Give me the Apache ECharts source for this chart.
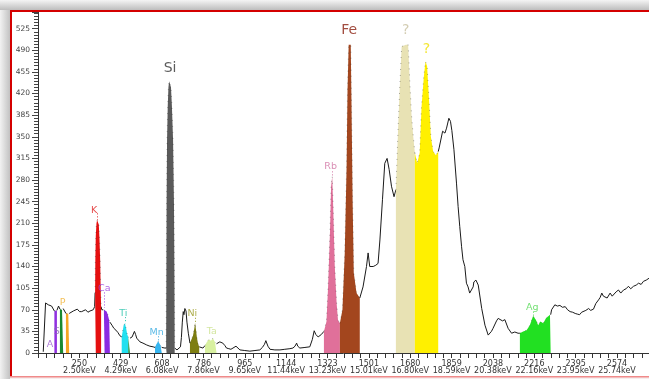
<!DOCTYPE html>
<html><head><meta charset="utf-8">
<script src="https://cdn.jsdelivr.net/npm/echarts@6/dist/echarts.min.js"></script>
<style>html,body{margin:0;padding:0;background:#fff}#c{width:649px;height:379px}</style>
</head><body><div id="c"></div>
<script>
// spectrum: [channel, counts]
const spectrum = [
[94,2],[104,81],[116,78],[123,80],[130,76],[136,73],
[142,68],[146,70],[150,68],[153,69],
[160,76],
[166,71],[170,72],[175,70],[180,72],
[186,74],
[192,64],[197,66],[202,64],[206,64],
[214,66],[224,68],[231,66],[241,71],[251,67],[260,67],[268,70],[277,70],[287,66],[296,68],[303,66],[310,70],[316,75],
[318,97],[319,150],[321,190],[324,210],[327,215],[331,215],[334,208],[337,185],[340,150],[342,110],[344,75],
[347,70],[353,70],
[356,70],[359,73],[363,72],[368,67],[373,62],[379,53],[382,50],
[391,45],[399,40],[408,37],[417,33],[425,28],
[433,26],[437,35],[441,44],[447,48],[452,40],[457,30],[461,26],
[465,27],[469,24],
[478,26],[488,35],[493,30],[498,24],[503,21],[512,18],[525,16],[541,13],[555,11],[569,10],
[577,9],[583,14],[591,19],[596,16],[601,12],[606,9],
[611,8],[620,8],
[625,8],[626,120],[627,240],[629,345],[632,400],[635,430],[638,440],[643,440],[646,430],[650,400],[655,345],[659,240],[661,120],[662,8],
[664,6],[672,5],[680,5],[687,10],[691,25],[695,50],[699,67],[702,62],[706,72],[711,68],[715,50],[721,32],
[728,16],[734,18],[741,28],[747,40],[750,49],[754,38],[758,25],[763,15],[768,10],
[775,8],[784,8],
[793,12],[801,18],[810,22],[819,20],[827,24],[836,18],[843,15],
[849,16],[857,18],[865,21],[870,16],[879,12],[886,8],[896,7],[905,6],[914,8],[927,11],[935,8],[944,5],[965,4],[987,3],[1009,4],[1030,5],[1041,9],[1050,14],[1056,20],[1065,11],[1074,6],[1095,5],[1117,5],[1138,6],[1160,7],[1173,8],[1182,11],[1189,16],[1194,11],[1203,8],[1225,9],[1246,10],[1257,22],[1265,36],[1272,30],[1282,26],[1289,27],[1296,30],[1304,33],
[1307,35],[1318,51],[1325,107],[1333,194],[1338,270],[1343,286],[1347,237],[1354,140],[1362,80],[1368,53],[1376,48],
[1387,70],[1397,162],[1405,302],[1409,426],[1414,499],[1423,499],[1426,410],[1431,248],[1436,130],[1448,97],[1462,89],
[1476,107],[1491,140],[1498,162],[1505,140],[1520,140],[1531,142],[1541,145],[1549,183],[1560,248],[1570,307],[1580,315],[1589,297],[1599,270],[1610,253],
[1618,264],[1628,367],[1635,432],[1643,496],[1650,499],[1661,499],[1671,499],[1679,432],[1686,383],[1693,351],[1700,324],
[1710,307],[1721,324],[1729,399],[1739,448],[1746,472],[1753,464],[1762,405],[1769,351],[1779,326],[1791,320],[1801,326],
[1805,332],[1820,359],[1830,356],[1837,364],[1847,380],[1854,375],[1860,360],[1869,329],[1880,275],[1887,237],[1894,205],[1902,172],[1908,151],[1916,140],[1923,113],[1930,107],[1937,97],[1942,97],[1952,107],[1955,115],[1964,118],[1974,110],[1989,72],[2003,45],[2017,29],[2024,26],[2031,35],[2038,40],[2053,52],[2060,56],[2067,59],[2079,52],[2089,54],[2103,40],[2118,32],[2132,34],[2146,32],
[2154,32],[2168,35],[2183,37],[2197,45],[2211,60],[2223,54],[2233,45],[2243,51],[2255,48],[2266,56],[2284,62],[2287,62],
[2291,70],[2305,78],[2316,76],[2327,77],[2338,74],[2350,75],[2360,70],[2371,67],[2382,66],[2393,64],[2402,63],[2412,62],[2421,66],[2429,65],[2439,69],[2451,72],[2460,69],[2472,71],[2482,80],[2494,86],[2501,90],[2508,97],[2515,92],[2523,94],[2531,89],[2544,97],[2553,92],[2559,95],[2570,99],[2580,102],[2590,97],[2602,102],[2613,104],[2623,108],[2633,104],[2645,108],[2657,110],[2667,113],[2678,111],[2688,116],[2700,118],[2712,121]
];

// highlighted element regions (channel ranges)
const regionStart = [142, 166, 192, 318, 356, 433, 461, 577, 625, 728, 793, 1307, 1376, 1618, 1700, 2154];
const regionEnd   = [153, 180, 206, 344, 382, 461, 469, 606, 662, 768, 843, 1376, 1462, 1700, 1801, 2287];
const regionColor = ['#9030e0','#1a8a30','#f5a623','#e51010','#8a2be2','#22e0f0','#2a9a50','#35b5f0','#5a5a5a','#7d7d12','#d8f0a0','#e0709a','#a3461e','#e8e2b4','#fff000','#22e022'];

// element labels
const labelText    = ['A','S','P','K','Ca','Ti','Mn','Si','Ni','Ta','Rb','Fe','?','?','Ag'];
const labelChannel = [123, 152, 178, 314, 358, 440, 584, 642, 738, 822, 1336, 1416, 1661, 1750, 2208];
const labelCount   = [13, 34, 82, 230, 105, 64, 33, 461, 64, 35, 302, 522, 522, 491, 74];
const labelColor   = ['#9b59d0','#8a6ab0','#f0b030','#e02020','#9b40e0','#20c0a8','#30a8e0','#333333','#9a9a20','#c8e088','#d070a0','#8b2010','#c8c0a0','#f0e000','#50d850'];
const labelSize    = [9.5, 9.5, 9.5, 9.5, 9.5, 9.5, 9.5, 14, 9.5, 9.5, 9.5, 14, 14, 14, 9.5];

// dotted drop lines from labels to peaks
const dropChannel = [329, 359, 447, 591, 750, 1343, 2211];
const dropFrom    = [226, 98, 58, 27, 57, 294, 67];
const dropTo      = [215, 73, 48, 19, 49, 286, 60];
const dropColor   = ['#e02020','#9b40e0','#20c0a8','#30a8e0','#9a9a20','#d070a0','#50d850'];

// axis ticks
const xTickValues   = [250, 428.75, 607.5, 786.25, 965, 1143.75, 1322.5, 1501.25, 1680, 1858.75, 2037.5, 2216.25, 2395, 2573.75];
const xTickChannels = ['250','429','608','786','965','1144','1323','1501','1680','1859','2038','2216','2395','2574'];
const xTickKeV      = ['2.50keV','4.29keV','6.08keV','7.86keV','9.65keV','11.44keV','13.23keV','15.01keV','16.80keV','18.59keV','20.38keV','22.16keV','23.95keV','25.74keV'];
const xMin = 71.25, xMax = 2712, xMinorStep = 35.75;
const yMin = 0, yMax = 552, yInterval = 35;

const xMinorTicks = [];
for (let v = xMin; v <= xMax; v += xMinorStep) xMinorTicks.push(v);

function inRegionStrict(c){
  for (let i=0;i<regionStart.length;i++) if (c>regionStart[i] && c<regionEnd[i]) return true;
  return false;
}
const blackData = spectrum.map(p => inRegionStrict(p[0]) ? [p[0],'-'] : p);

const series = [{
  type:'line', data: blackData, symbol:'none', connectNulls:false, z:3,
  lineStyle:{color:'#1a1a1a', width:1}, silent:true
}];
regionStart.forEach((s,i)=>{
  series.push({
    type:'line', symbol:'none', z:4, silent:true,
    data: spectrum.filter(p=>p[0]>=s && p[0]<=regionEnd[i]),
    areaStyle:{color:regionColor[i], opacity:1},
    lineStyle:{color:'rgba(20,20,20,0.35)', width:1, type:[1,5]}
  });
});
series.push({
  type:'scatter', symbolSize:0, z:6, silent:true,
  data: labelText.map((t,i)=>({
    value:[labelChannel[i], labelCount[i]],
    label:{show:true, position:'inside', formatter:t, color:labelColor[i], fontSize:labelSize[i], fontFamily:'DejaVu Sans'}
  })),
  markLine:{
    silent:true, symbol:'none', label:{show:false},
    data: dropChannel.map((c,i)=>[
      {coord:[c, dropFrom[i]], lineStyle:{color:dropColor[i], type:[1,2], width:1}},
      {coord:[c, dropTo[i]]}
    ])
  }
});

const chart = echarts.init(document.getElementById('c'), null, {renderer:'canvas'});
chart.setOption({
  animation:false,
  backgroundColor:'#ffffff',
  graphic:[
    {type:'rect', z:-100, shape:{x:0,y:0,width:649,height:10}, style:{fill:new echarts.graphic.LinearGradient(0,0,0,1,[{offset:0,color:'#f4f4f4'},{offset:1,color:'#bdbdbd'}])}},
    {type:'rect', z:-100, shape:{x:0,y:10,width:10,height:369}, style:{fill:new echarts.graphic.LinearGradient(0,0,1,0,[{offset:0,color:'#f2f2f2'},{offset:1,color:'#c2c2c2'}])}},
    {type:'rect', z:-100, shape:{x:10,y:377,width:639,height:2}, style:{fill:'#f6eeee'}},
    {type:'rect', z:100, shape:{x:10,y:10,width:639,height:2}, style:{fill:'#d40000'}},
    {type:'rect', z:100, shape:{x:10,y:10,width:2,height:367}, style:{fill:'#d40000'}},
    {type:'rect', z:100, shape:{x:10,y:376,width:639,height:1.5}, style:{fill:'#f08a8a'}}
  ],
  grid:{left:38, right:0, top:12, bottom:26, containLabel:false},
  xAxis:{
    type:'value', min:xMin, max:xMax,
    axisLine:{show:true, lineStyle:{color:'#333', width:1}},
    axisTick:{show:true, customValues:xMinorTicks, length:5, lineStyle:{color:'#333'}},
    splitLine:{show:false},
    axisLabel:{
      customValues:xTickValues, margin:7, color:'#333', fontSize:8, lineHeight:7.5, fontFamily:'DejaVu Sans',
      formatter:(v)=>{ const i = xTickValues.findIndex(t=>Math.abs(t-v)<0.01); return i<0 ? '' : xTickChannels[i]+'\n'+xTickKeV[i]; }
    }
  },
  yAxis:{
    type:'value', min:yMin, max:yMax, interval:yInterval,
    axisLine:{show:true, lineStyle:{color:'#333', width:1}},
    axisTick:{show:true, length:6, lineStyle:{color:'#444'}},
    minorTick:{show:true, splitNumber:7, length:4, lineStyle:{color:'#444'}},
    splitLine:{show:false},
    axisLabel:{color:'#444', fontSize:7.5, fontFamily:'DejaVu Sans', margin:8, showMaxLabel:false}
  },
  series
});
</script>
</body></html>
